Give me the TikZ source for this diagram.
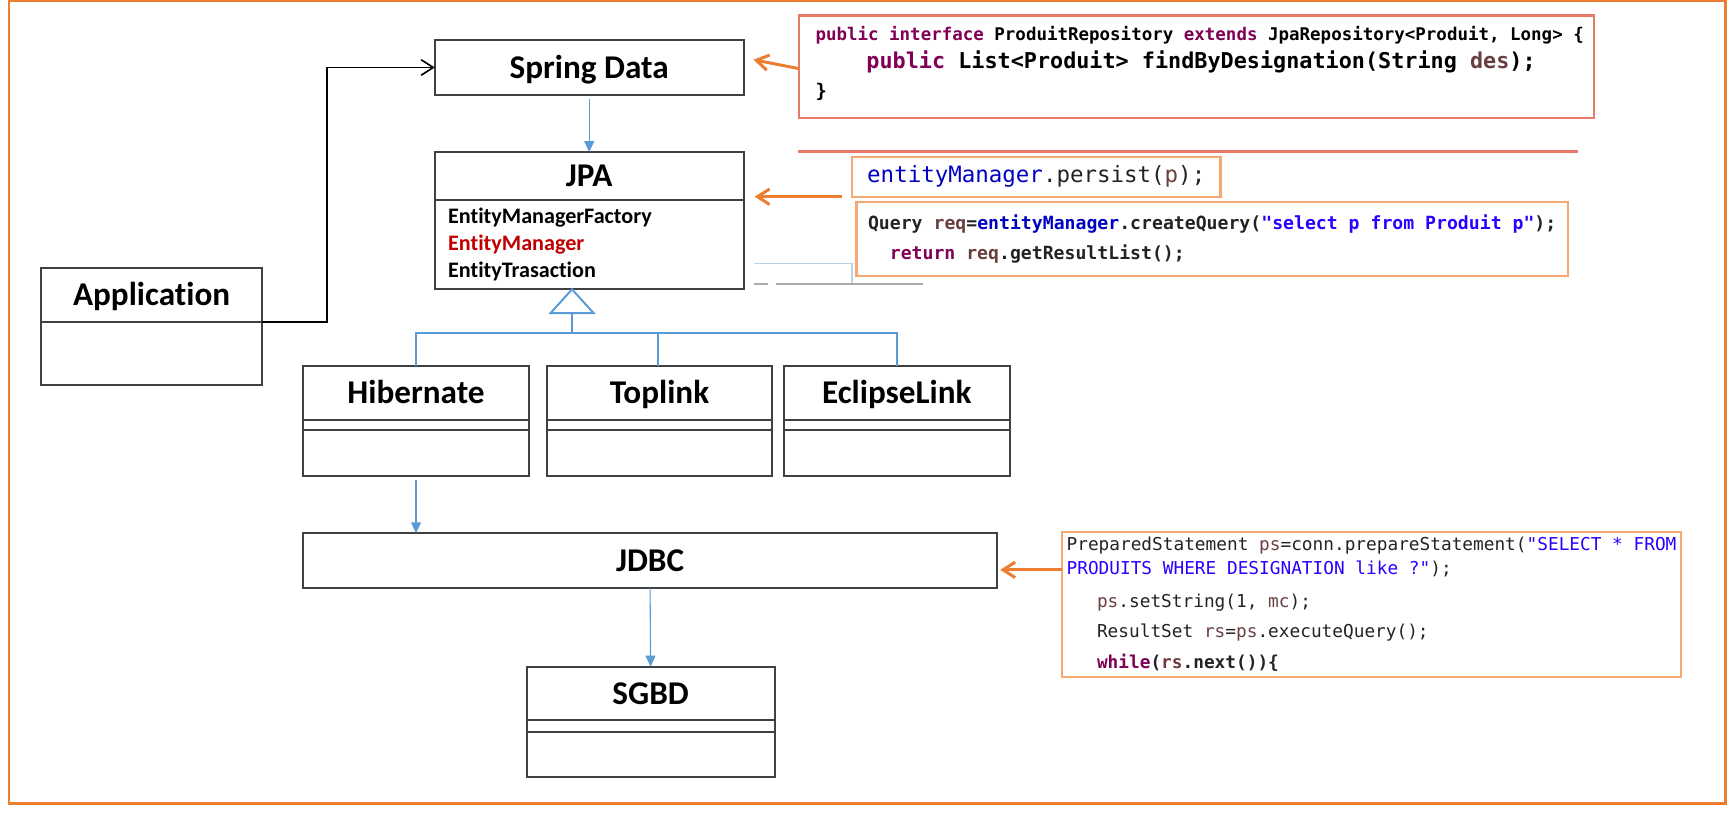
\documentclass[tikz,border=0pt]{standalone}
\usepackage{fontspec}
\setmainfont{Carlito}[Ligatures={NoCommon}]
\setmonofont{DejaVu Sans Mono}
\usetikzlibrary{ arrows.meta, calc, positioning }
\definecolor{framecol}{RGB}{237,125,49}
\definecolor{boxgray}{RGB}{64,64,64}
\definecolor{umlblue}{RGB}{91,155,213}
\definecolor{emred}{RGB}{192,0,0}
\definecolor{codered}{RGB}{232,122,104}
\definecolor{codeorange}{RGB}{245,168,112}
\definecolor{kwpurple}{RGB}{127,0,85}
\definecolor{varbrown}{RGB}{106,62,62}
\definecolor{fieldblue}{RGB}{0,0,192}
\definecolor{strblue}{RGB}{42,0,255}
\definecolor{codetext}{RGB}{35,35,35}
\definecolor{straybl}{RGB}{183,212,238}
\definecolor{straygr}{RGB}{170,170,170}
\newcommand{\codekw}[1]{\textcolor{kwpurple}{#1}}
\newcommand{\codevar}[1]{\textcolor{varbrown}{#1}}
\newcommand{\codefld}[1]{\textcolor{fieldblue}{#1}}
\newcommand{\codestr}[1]{\textcolor{strblue}{#1}}
\tikzset{
>={Straight Barb[length=11pt,width=14pt]}, % open arrow heads
every node/.style={inner sep=0pt, outer sep=0pt},
umlhead/.style={draw=boxgray, line width=1.8pt, text height=19.3pt, text depth=0pt,
  font=\fontsize{30}{36}\selectfont\bfseries}, % class name compartment
umlpart/.style={draw=boxgray, line width=1.8pt}, % other compartments
codebox/.style={draw=codeorange, line width=2pt, align=left, text=codetext},
codearrow/.style={->, draw=framecol, line width=2.7pt},
uses/.style={->, line width=1.5pt},
link/.style={-{Triangle[length=10pt,width=9pt]}, draw=umlblue, line width=1pt},
inherit/.style={draw=umlblue, line width=1.8pt},
}
\begin{document}
\begin{tikzpicture}[x=1pt, y=-1pt]
  \useasboundingbox (0,0) rectangle (1568,734.8);
  \draw[framecol, line width=2.3pt] (8,1) rectangle (1559.6,726);

  % classes
  \node[umlhead, minimum width=200pt, minimum height=49pt] (app) at (137,266.5) {Application};
  \node[umlpart, minimum width=200pt, minimum height=57pt, below=0pt of app] (appbody) {};

  \node[umlhead, minimum width=279pt, minimum height=50pt] (spring) at (532.5,61) {Spring Data};

  \node[umlhead, minimum width=279pt, minimum height=43.5pt] (jpa) at (532.5,159.25) {JPA};
  \node[umlpart, minimum width=279pt, minimum height=80.5pt, below=0pt of jpa, align=left,
    text width=255pt, font=\fontsize{20}{24.5}\selectfont\bfseries] (jpabody)
    {EntityManagerFactory\\\textcolor{emred}{EntityManager}\\EntityTrasaction};

  \node[umlhead, minimum width=204pt, minimum height=48.5pt] (hib) at (376,355.25) {Hibernate};
  \node[umlpart, minimum width=204pt, minimum height=9.5pt, below=0pt of hib] (hibattr) {};
  \node[umlpart, minimum width=204pt, minimum height=41pt, below=0pt of hibattr] (hibops) {};

  \node[umlhead, minimum width=204pt, minimum height=48.5pt] (top) at (596,355.25) {Toplink};
  \node[umlpart, minimum width=204pt, minimum height=9.5pt, below=0pt of top] (topattr) {};
  \node[umlpart, minimum width=204pt, minimum height=41pt, below=0pt of topattr] (topops) {};

  \node[umlhead, minimum width=204pt, minimum height=48.5pt] (ecl) at (810.5,355.25) {EclipseLink};
  \node[umlpart, minimum width=204pt, minimum height=9.5pt, below=0pt of ecl] (eclattr) {};
  \node[umlpart, minimum width=204pt, minimum height=41pt, below=0pt of eclattr] (eclops) {};

  \node[umlhead, minimum width=627pt, minimum height=49.5pt] (jdbc) at (587.5,506.75) {JDBC};

  \node[umlhead, minimum width=224pt, minimum height=48.5pt] (sgbd) at (588,626.75) {SGBD};
  \node[umlpart, minimum width=224pt, minimum height=10.5pt, below=0pt of sgbd] (sgbdattr) {};
  \node[umlpart, minimum width=224pt, minimum height=41pt, below=0pt of sgbdattr] (sgbdops) {};

  % code snippets
  \node[draw=codered, line width=2pt, minimum width=718.6pt, minimum height=93pt] (code1) at (1081.3,60.5) {};
  \node[anchor=west, font=\ttfamily\bfseries\fontsize{15.8}{19}\selectfont] (code1a) at (737,31.6)
    {\codekw{public interface} ProduitRepository \codekw{extends} JpaRepository<Produit, Long> \{};
  \node[anchor=west, font=\ttfamily\bfseries\fontsize{19.7}{24}\selectfont] (code1b) at (783,55.7)
    {\codekw{public} List<Produit> findByDesignation(String \codevar{des});};
  \node[anchor=west, font=\ttfamily\bfseries\fontsize{17}{20}\selectfont] (code1c) at (737,82.9) {\}};
  \draw[codered, line width=2pt] (721,137) -- (1425.8,137);

  \node[codebox, minimum width=333pt, minimum height=36.2pt, font=\ttfamily\fontsize{20.3}{24}\selectfont]
    (persist) at (936.5,159.7) {\codefld{entityManager}.persist(\codevar{p});};

  \node[codebox, minimum width=643pt, minimum height=67.1pt, font=\ttfamily\bfseries\fontsize{16.4}{27.4}\selectfont]
    (query) at (1095.5,215.85)
    {Query \codevar{req}=\codefld{entityManager}.createQuery(\codestr{"select p from Produit p"});\\
     \hspace*{19.7pt}\codekw{return} \codevar{req}.getResultList();};

  \node[codebox, minimum width=559pt, minimum height=130.5pt, font=\ttfamily\fontsize{16.06}{21.4}\selectfont]
    (jdbccode) at (1239.5,546.25)
    {PreparedStatement \codevar{ps}=conn.prepareStatement(\codestr{"SELECT * FROM}\\
     \codestr{PRODUITS WHERE DESIGNATION like ?"});\\[8.6pt]
     \hspace*{27.5pt}\codevar{ps}.setString(1, \codevar{mc});\\[5.6pt]
     \hspace*{27.5pt}ResultSet \codevar{rs}=\codevar{ps}.executeQuery();\\[7.1pt]
     \hspace*{27.5pt}\textbf{\codekw{while}(\codevar{rs}.next())\{}};

  % leftovers next to JPA
  \draw[straybl, line width=1.5pt] (681.5,238) -- (769.7,238) -- (769.7,256);
  \draw[straygr, line width=2pt] (681.5,256.7) -- (694.5,256.7) (701,256.7) -- (834.4,256.7);

  % connectors
  \draw[uses] (app.south east) -- ++(58.6,0) |- (spring.west);
  \draw[link] ([yshift=-3.5pt]spring.south) -- (jpa.north);

  \coordinate (apex) at ([xshift=-15.5pt]jpabody.south);
  \draw[inherit] (apex) -- ++(-19.5,21.5) -- ++(39,0) -- cycle;
  \draw[inherit] ($(apex)+(0,21.5)$) -- ++(0,18) coordinate (bus);
  \draw[inherit] (hib.north) |- (bus) -| (ecl.north);
  \draw[inherit] ([xshift=-1pt]top.north) -- ([xshift=-1pt]top.north |- bus);

  \draw[link] ([yshift=-4pt]hibops.south) -- (hibops.south |- jdbc.north);
  \draw[link] (jdbc.south) -- (sgbd.north);

  \draw[codearrow] ([yshift=-1.5pt]code1.west) -- ($(spring.east)+(9,-7)$);
  \draw[codearrow] ([xshift=-9pt]persist.south west) -- ($(jpa.east |- persist.south west)+(10,0)$);
  \coordinate (jdbctail) at ($(jdbccode.north west)+(0,34)$);
  \draw[codearrow] (jdbctail) -- ($(jdbc.east |- jdbctail)+(3,0)$);
\end{tikzpicture}
\end{document}
